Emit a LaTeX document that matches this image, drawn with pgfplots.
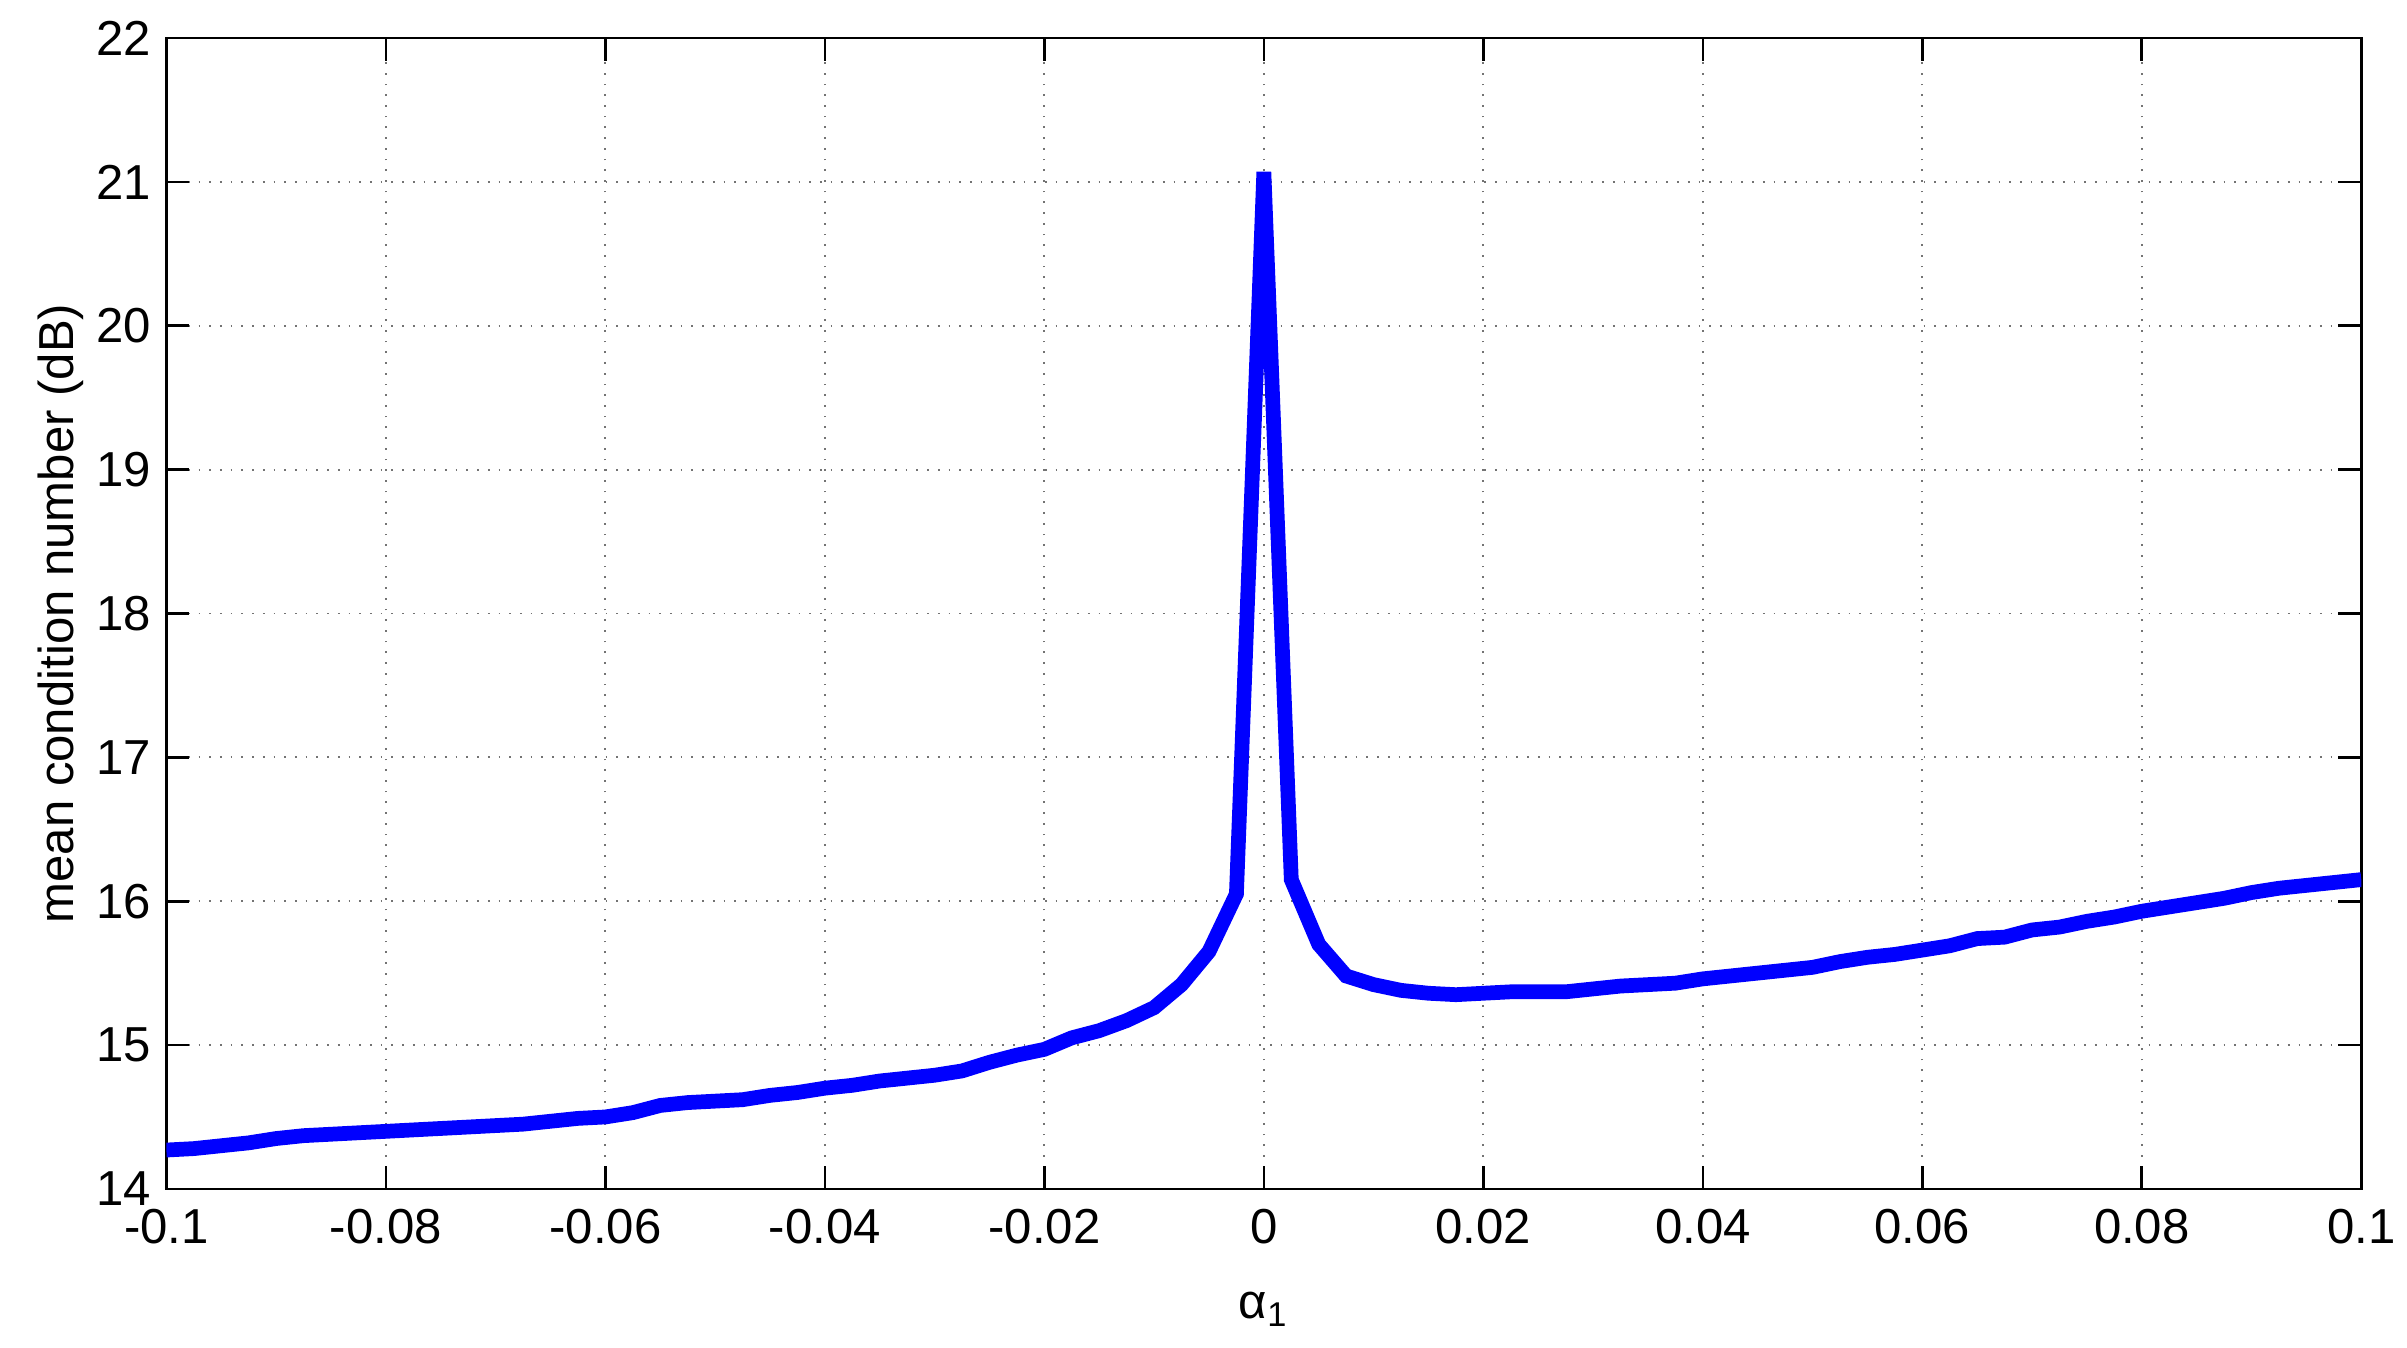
\documentclass[border=0pt]{standalone}
\usepackage{fontspec}
\setmainfont{Liberation Sans}
\usepackage{pgfplots}
\pgfplotsset{compat=1.18}

\begin{document}
\begin{tikzpicture}
\begin{axis}[
    scale only axis,
    width=17.28cm,
    height=9.06cm,
    xmin=-0.1, xmax=0.1,
    ymin=14, ymax=22,
    xtick={-0.1,-0.08,...,0.1},
    ytick={14,15,...,22},
    xticklabels={-0.1,-0.08,-0.06,-0.04,-0.02,0,0.02,0.04,0.06,0.08,0.1},
    scaled x ticks=false,
    /pgf/number format/assume math mode=true,
    tick align=inside,
    tick pos=both,
    major tick length=0.18cm,
    tick style={black, line width=0.6pt},
    axis line style={black, line width=0.6pt},
    grid=major,
    major grid style={black!55, dotted, line width=0.4pt},
    tick label style={font=\fontsize{11}{13}\selectfont},
    label style={font=\fontsize{11}{13}\selectfont},
    xticklabel style={yshift=-1pt},
    xlabel={α\textsubscript{1}},
    ylabel={mean condition number (dB)},
    xlabel style={yshift=-4pt},
    ylabel style={yshift=-4pt},
]
\addplot[blue, line width=3.3pt, line join=miter] coordinates {
(-0.1,14.27) (-0.0975,14.28) (-0.095,14.30) (-0.0925,14.32) (-0.09,14.35)
(-0.0875,14.37) (-0.085,14.38) (-0.0825,14.39) (-0.08,14.40) (-0.0775,14.41)
(-0.075,14.42) (-0.0725,14.43) (-0.07,14.44) (-0.0675,14.45) (-0.065,14.47)
(-0.0625,14.49) (-0.06,14.50) (-0.0575,14.53) (-0.055,14.58) (-0.0525,14.60)
(-0.05,14.61) (-0.0475,14.62) (-0.045,14.65) (-0.0425,14.67) (-0.04,14.70)
(-0.0375,14.72) (-0.035,14.75) (-0.0325,14.77) (-0.03,14.79) (-0.0275,14.82)
(-0.025,14.88) (-0.0225,14.93) (-0.02,14.97) (-0.0175,15.05) (-0.015,15.10)
(-0.0125,15.17) (-0.01,15.26) (-0.0075,15.42) (-0.005,15.65) (-0.0025,16.05)
(0,21.07)
(0.0025,16.15) (0.005,15.70) (0.0075,15.48) (0.01,15.42) (0.0125,15.38)
(0.015,15.36) (0.0175,15.35) (0.02,15.36) (0.0225,15.37) (0.025,15.37)
(0.0275,15.37) (0.03,15.39) (0.0325,15.41) (0.035,15.42) (0.0375,15.43)
(0.04,15.46) (0.0425,15.48) (0.045,15.50) (0.0475,15.52) (0.05,15.54)
(0.0525,15.58) (0.055,15.61) (0.0575,15.63) (0.06,15.66) (0.0625,15.69)
(0.065,15.74) (0.0675,15.75) (0.07,15.80) (0.0725,15.82) (0.075,15.86)
(0.0775,15.89) (0.08,15.93) (0.0825,15.96) (0.085,15.99) (0.0875,16.02)
(0.09,16.06) (0.0925,16.09) (0.095,16.11) (0.0975,16.13) (0.1,16.15)
};
\end{axis}
\pgfresetboundingbox
\path[use as bounding box] (current axis.south west) ++(-1.31cm,-1.25cm) rectangle ([xshift=0.36cm,yshift=0.30cm]current axis.north east);
\end{tikzpicture}
\end{document}
